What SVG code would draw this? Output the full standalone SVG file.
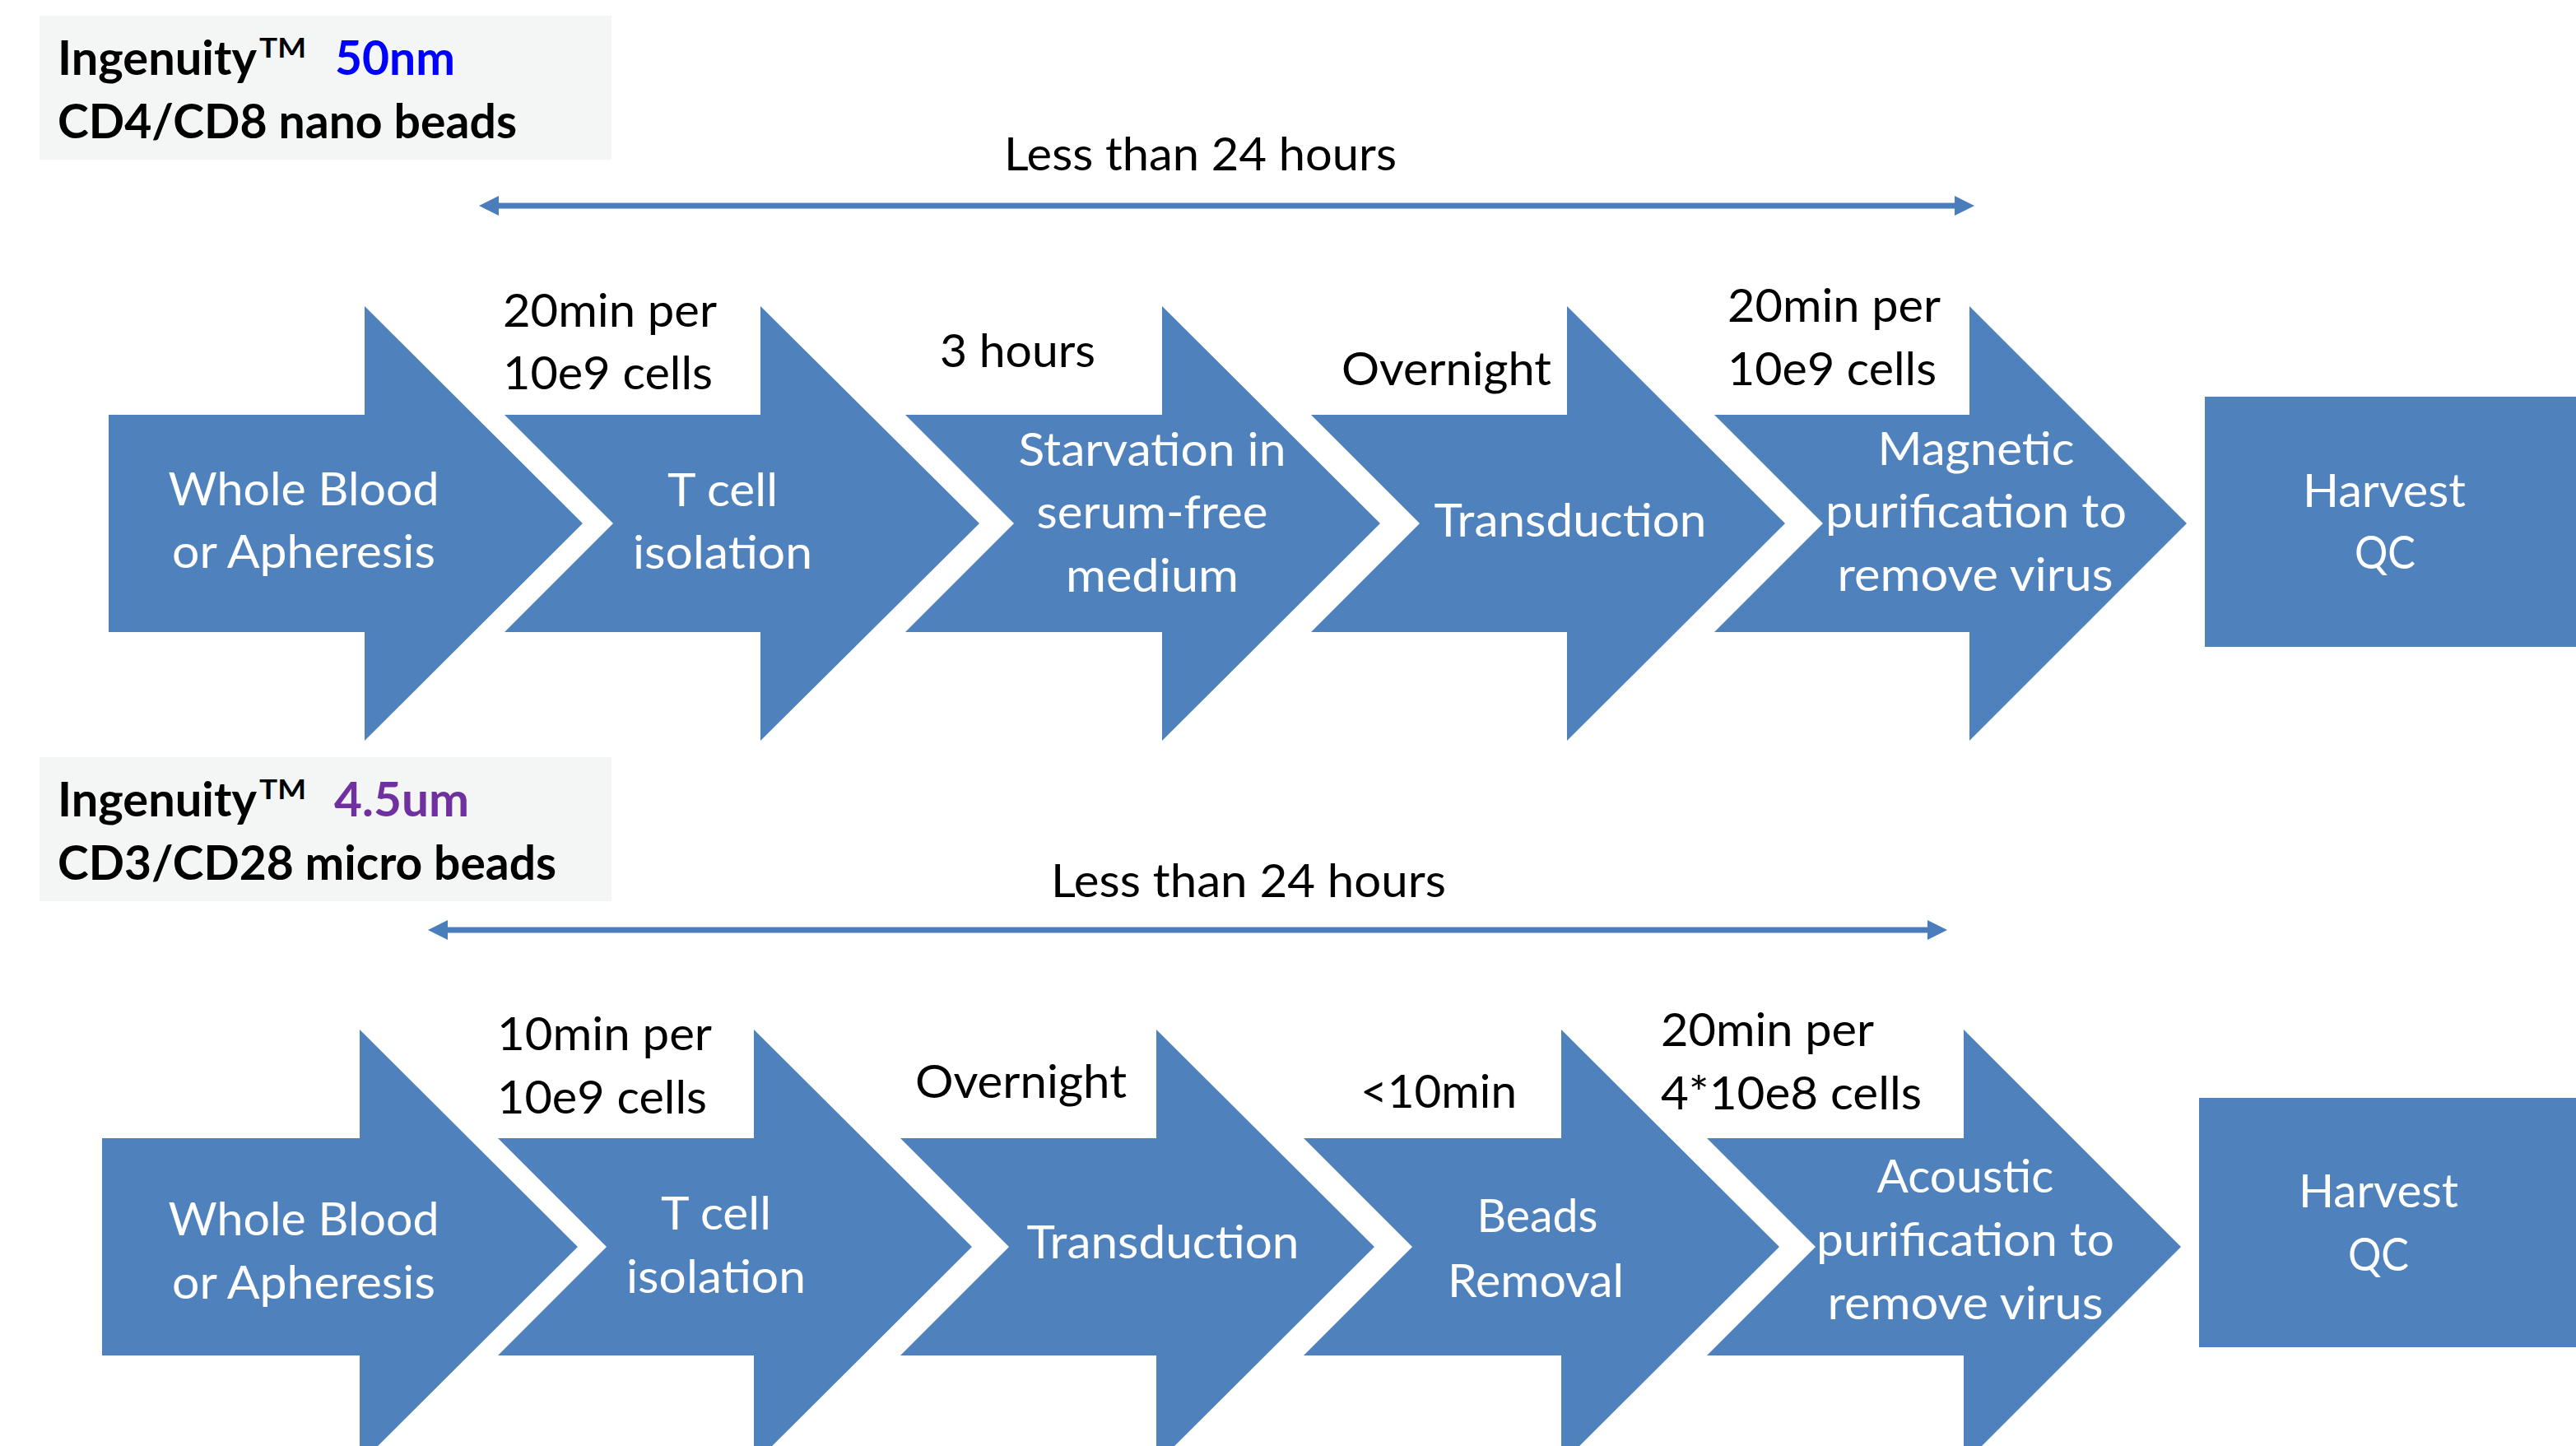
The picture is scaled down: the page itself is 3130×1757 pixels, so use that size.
<svg xmlns="http://www.w3.org/2000/svg" width="3130" height="1757" viewBox="0 0 3130 1757">
<defs>
<style>
.bg{fill:#ffffff}
.hdr{fill:#F4F6F6}
.arr{fill:#4F81BD}
.t{font-family:Lato,"Liberation Sans",sans-serif;font-size:57px}
.b{font-weight:bold;fill:#000}
.k{fill:#000}
.w{fill:#fff;text-anchor:middle}
.con{stroke:#4A7EBB;stroke-width:7;fill:none}
</style>
<marker id="ah" markerUnits="userSpaceOnUse" markerWidth="26" markerHeight="26" viewBox="0 0 26 26" refX="1" refY="12" orient="auto-start-reverse">
<path d="M0,0 L24,12 L0,24 Z" fill="#4A7EBB"/>
</marker>
</defs>
<rect class="bg" x="0" y="0" width="3130" height="1757"/>

<g id="header-top">
<rect class="hdr" x="48" y="19" width="695" height="175"/>
<text class="t b" x="70" y="91" textLength="242" lengthAdjust="spacingAndGlyphs">Ingenuity</text>
<text class="t b" x="315" y="70" style="font-size:32px" textLength="57" lengthAdjust="spacingAndGlyphs">TM</text>
<text class="t b" x="407" y="91" style="fill:#0000FF" textLength="146" lengthAdjust="spacingAndGlyphs">50nm</text>
<text class="t b" x="70" y="168" textLength="558" lengthAdjust="spacingAndGlyphs">CD4/CD8 nano beads</text>
</g>
<g id="header-bottom">
<rect class="hdr" x="48" y="920" width="695" height="175"/>
<text class="t b" x="70" y="992" textLength="242" lengthAdjust="spacingAndGlyphs">Ingenuity</text>
<text class="t b" x="315" y="971" style="font-size:32px" textLength="57" lengthAdjust="spacingAndGlyphs">TM</text>
<text class="t b" x="406" y="992" style="fill:#7030A0" textLength="164" lengthAdjust="spacingAndGlyphs">4.5um</text>
<text class="t b" x="70" y="1069" textLength="606" lengthAdjust="spacingAndGlyphs">CD3/CD28 micro beads</text>
</g>

<g id="connectors">
<line class="con" x1="605" y1="250" x2="2376" y2="250" marker-start="url(#ah)" marker-end="url(#ah)"/>
<line class="con" x1="543" y1="1130" x2="2343" y2="1130" marker-start="url(#ah)" marker-end="url(#ah)"/>
</g>
<text class="t k" x="1220" y="207" textLength="477" lengthAdjust="spacingAndGlyphs">Less than 24 hours</text>
<text class="t k" x="1277" y="1090" textLength="480" lengthAdjust="spacingAndGlyphs">Less than 24 hours</text>

<!-- Top row -->
<g id="t1">
<path class="arr" d="M132,504 H443 V372 L708,636 L443,900 V768 H132 Z"/>
<text class="t w" x="369" y="614" textLength="329" lengthAdjust="spacingAndGlyphs">Whole Blood</text>
<text class="t w" x="369" y="690" textLength="320" lengthAdjust="spacingAndGlyphs">or Apheresis</text>
</g>
<g id="t2">
<path class="arr" d="M613,504 H924 V372 L1190,636 L924,900 V768 H613 L745,636 Z"/>
<text class="t w" x="878" y="615" textLength="134" lengthAdjust="spacingAndGlyphs">T cell</text>
<text class="t w" x="878" y="691" textLength="218" lengthAdjust="spacingAndGlyphs">isolation</text>
</g>
<g id="t3">
<path class="arr" d="M1100,504 H1412 V372 L1677,636 L1412,900 V768 H1100 L1232,636 Z"/>
<text class="t w" x="1400" y="566" textLength="325" lengthAdjust="spacingAndGlyphs">Starvation in</text>
<text class="t w" x="1400" y="642" textLength="281" lengthAdjust="spacingAndGlyphs">serum-free</text>
<text class="t w" x="1400" y="719" textLength="210" lengthAdjust="spacingAndGlyphs">medium</text>
</g>
<g id="t4">
<path class="arr" d="M1593,504 H1904 V372 L2169,636 L1904,900 V768 H1593 L1725,636 Z"/>
<text class="t w" x="1908" y="652" textLength="331" lengthAdjust="spacingAndGlyphs">Transduction</text>
</g>
<g id="t5">
<path class="arr" d="M2083,504 H2393 V372 L2657,636 L2393,900 V768 H2083 L2215,636 Z"/>
<text class="t w" x="2401" y="565" textLength="239" lengthAdjust="spacingAndGlyphs">Magnetic</text>
<text class="t w" x="2401" y="641" textLength="366" lengthAdjust="spacingAndGlyphs">purification to</text>
<text class="t w" x="2400" y="718" textLength="335" lengthAdjust="spacingAndGlyphs">remove virus</text>
</g>
<g id="t6">
<rect class="arr" x="2679" y="482" width="451" height="304"/>
<text class="t w" x="2897" y="616" textLength="198" lengthAdjust="spacingAndGlyphs">Harvest</text>
<text class="t w" x="2898" y="691" textLength="74" lengthAdjust="spacingAndGlyphs">QC</text>
</g>

<g id="top-labels">
<text class="t k" x="611" y="397" textLength="260" lengthAdjust="spacingAndGlyphs">20min per</text>
<text class="t k" x="611" y="473" textLength="255" lengthAdjust="spacingAndGlyphs">10e9 cells</text>
<text class="t k" x="1142" y="446" textLength="189" lengthAdjust="spacingAndGlyphs">3 hours</text>
<text class="t k" x="1630" y="468" textLength="255" lengthAdjust="spacingAndGlyphs">Overnight</text>
<text class="t k" x="2099" y="391" textLength="259" lengthAdjust="spacingAndGlyphs">20min per</text>
<text class="t k" x="2099" y="468" textLength="254" lengthAdjust="spacingAndGlyphs">10e9 cells</text>
</g>

<!-- Bottom row -->
<g id="b1">
<path class="arr" d="M124,1383 H437 V1251 L702,1515 L437,1779 V1647 H124 Z"/>
<text class="t w" x="369" y="1501" textLength="329" lengthAdjust="spacingAndGlyphs">Whole Blood</text>
<text class="t w" x="369" y="1578" textLength="320" lengthAdjust="spacingAndGlyphs">or Apheresis</text>
</g>
<g id="b2">
<path class="arr" d="M605,1383 H916 V1251 L1181,1515 L916,1779 V1647 H605 L737,1515 Z"/>
<text class="t w" x="870" y="1494" textLength="134" lengthAdjust="spacingAndGlyphs">T cell</text>
<text class="t w" x="870" y="1571" textLength="218" lengthAdjust="spacingAndGlyphs">isolation</text>
</g>
<g id="b3">
<path class="arr" d="M1094,1383 H1405 V1251 L1670,1515 L1405,1779 V1647 H1094 L1226,1515 Z"/>
<text class="t w" x="1413" y="1529" textLength="331" lengthAdjust="spacingAndGlyphs">Transduction</text>
</g>
<g id="b4">
<path class="arr" d="M1584,1383 H1897 V1251 L2162,1515 L1897,1779 V1647 H1584 L1716,1515 Z"/>
<text class="t w" x="1868" y="1497" textLength="147" lengthAdjust="spacingAndGlyphs">Beads</text>
<text class="t w" x="1866" y="1576" textLength="214" lengthAdjust="spacingAndGlyphs">Removal</text>
</g>
<g id="b5">
<path class="arr" d="M2074,1383 H2386 V1251 L2650,1515 L2386,1779 V1647 H2074 L2206,1515 Z"/>
<text class="t w" x="2388" y="1449" textLength="215" lengthAdjust="spacingAndGlyphs">Acoustic</text>
<text class="t w" x="2388" y="1526" textLength="362" lengthAdjust="spacingAndGlyphs">purification to</text>
<text class="t w" x="2388" y="1603" textLength="335" lengthAdjust="spacingAndGlyphs">remove virus</text>
</g>
<g id="b6">
<rect class="arr" x="2672" y="1334" width="458" height="303"/>
<text class="t w" x="2890" y="1467" textLength="194" lengthAdjust="spacingAndGlyphs">Harvest</text>
<text class="t w" x="2890" y="1544" textLength="74" lengthAdjust="spacingAndGlyphs">QC</text>
</g>

<g id="bottom-labels">
<text class="t k" x="604" y="1276" textLength="261" lengthAdjust="spacingAndGlyphs">10min per</text>
<text class="t k" x="604" y="1353" textLength="255" lengthAdjust="spacingAndGlyphs">10e9 cells</text>
<text class="t k" x="1112" y="1334" textLength="257" lengthAdjust="spacingAndGlyphs">Overnight</text>
<text class="t k" x="1653" y="1346" textLength="190" lengthAdjust="spacingAndGlyphs">&lt;10min</text>
<text class="t k" x="2018" y="1271" textLength="259" lengthAdjust="spacingAndGlyphs">20min per</text>
<text class="t k" x="2018" y="1348" textLength="317" lengthAdjust="spacingAndGlyphs">4*10e8 cells</text>
</g>
</svg>
